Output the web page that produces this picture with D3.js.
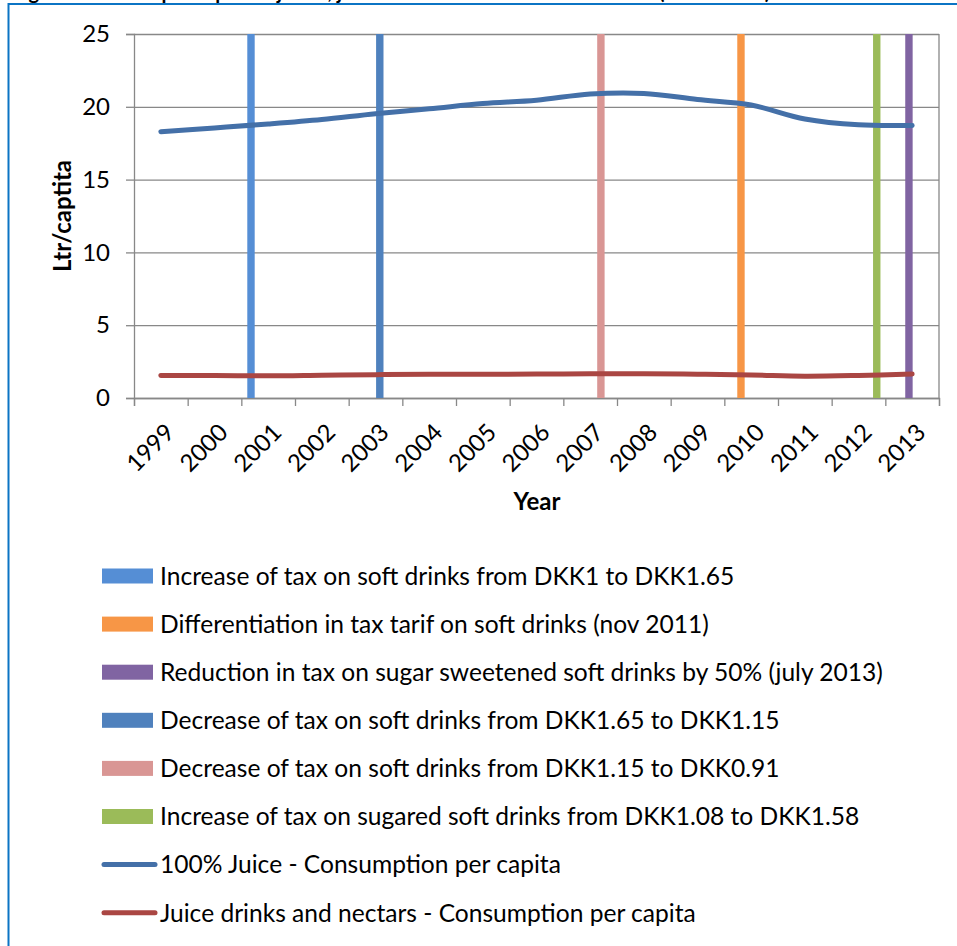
<!DOCTYPE html>
<html>
<head>
<meta charset="utf-8">
<script src="https://cdn.jsdelivr.net/npm/d3@7"></script>
<style>
  html, body { margin: 0; padding: 0; background: #fff; overflow: hidden; }
  svg { display: block; }
  text { font-family: Lato, "Open Sans", sans-serif; fill: #000; }
</style>
</head>
<body>
<svg id="chart" width="957" height="946"></svg>
<script>
// Years on the category axis
const years = [1999, 2000, 2001, 2002, 2003, 2004, 2005, 2006, 2007, 2008, 2009, 2010, 2011, 2012, 2013];

// Consumption per capita (litres)
const juice100 = [18.29, 18.55, 18.82, 19.13, 19.53, 19.86, 20.22, 20.45, 20.88, 20.92, 20.50, 20.12, 19.16, 18.76, 18.72];
const juiceDrinks = [1.55, 1.55, 1.52, 1.56, 1.60, 1.63, 1.63, 1.64, 1.66, 1.67, 1.63, 1.58, 1.50, 1.55, 1.65];

// Tax events (position on the year axis)
const eventNames = [
  "Increase of tax on soft drinks from DKK1 to DKK1.65",
  "Differentiation in tax tarif on soft drinks (nov 2011)",
  "Reduction in tax on sugar sweetened soft drinks by 50% (july 2013)",
  "Decrease of tax on soft drinks from DKK1.65 to DKK1.15",
  "Decrease of tax on soft drinks from DKK1.15 to DKK0.91",
  "Increase of tax on sugared soft drinks from DKK1.08 to DKK1.58"
];
const eventPositions = [2000.68, 2009.81, 2012.94, 2003.08, 2007.2, 2012.34];
const eventColors = ["#558ED5", "#F79646", "#8064A2", "#4F81BD", "#D99694", "#9BBB59"];

const seriesNames = ["100% Juice - Consumption per capita", "Juice drinks and nectars - Consumption per capita"];
const seriesColors = ["#4470A8", "#AA4643"];

const yTicks = [0, 5, 10, 15, 20, 25];
const yLabel = "Ltr/captita";
const xLabel = "Year";
const title = "Figure 3: Annual per capita of juices, juice drinks and nectars in Denmark (1999-2013)";

const svg = d3.select("#chart");

// Frame of the figure box, with its caption running above it
svg.append("text")
  .attr("x", 12).attr("y", -1)
  .style("font-weight", "bold").style("font-size", "20px")
  .text(title);
svg.append("path")
  .attr("d", "M8.5,960 V4 H960")
  .attr("fill", "none").attr("stroke", "#0B74C4").attr("stroke-width", 2);

const plot = { left: 134, right: 939, top: 34, bottom: 398 };

const x = d3.scaleLinear().domain([years[0] - 0.5, years[years.length - 1] + 0.5]).range([plot.left, plot.right]);
const y = d3.scaleLinear().domain([0, 25]).range([plot.bottom, plot.top]);

const gridColor = "#888";

// Horizontal gridlines
svg.append("g")
  .attr("transform", `translate(${plot.left},0)`)
  .call(d3.axisLeft(y).tickValues(yTicks).tickSize(-(plot.right - plot.left)).tickFormat(""))
  .call(g => g.select(".domain").remove())
  .call(g => g.selectAll("line").attr("stroke", gridColor).attr("stroke-width", 1.3));

// Y axis with outside ticks
const yAxis = svg.append("g")
  .attr("transform", `translate(${plot.left},0)`)
  .call(d3.axisLeft(y).tickValues(yTicks).tickSize(8).tickPadding(16))
  .call(g => g.select(".domain").attr("stroke", gridColor).attr("stroke-width", 1.3))
  .call(g => g.selectAll("line").attr("stroke", gridColor).attr("stroke-width", 1.3));
yAxis.selectAll("text").style("font-size", "24px").style("font-family", "Lato, sans-serif").attr("fill", "#000");

// Right border of plot area
svg.append("line")
  .attr("x1", plot.right).attr("x2", plot.right)
  .attr("y1", plot.top).attr("y2", plot.bottom)
  .attr("stroke", gridColor).attr("stroke-width", 1.3);

// X axis: ticks at category boundaries
const boundaries = d3.range(years.length + 1).map(i => years[0] - 0.5 + i);
svg.append("g")
  .attr("transform", `translate(0,${plot.bottom})`)
  .call(d3.axisBottom(x).tickValues(boundaries).tickSize(8).tickFormat(""))
  .call(g => g.select(".domain").attr("stroke", gridColor).attr("stroke-width", 1.3))
  .call(g => g.selectAll("line").attr("stroke", gridColor).attr("stroke-width", 1.3));

// Year labels, rotated
svg.append("g").selectAll("text")
  .data(years)
  .join("text")
  .attr("transform", d => `translate(${x(d) + 9},${plot.bottom + 30}) rotate(-45)`)
  .attr("text-anchor", "end")
  .attr("dy", "0.35em")
  .style("font-size", "24px")
  .text(d => d);

// Axis titles
svg.append("text")
  .attr("transform", `translate(71,${(plot.top + plot.bottom) / 2}) rotate(-90)`)
  .attr("text-anchor", "middle")
  .style("font-weight", "bold").style("font-size", "24px")
  .text(yLabel);
svg.append("text")
  .attr("x", 537).attr("y", 510)
  .attr("text-anchor", "middle")
  .style("font-weight", "bold").style("font-size", "24px")
  .text(xLabel);

// Tax event bars
svg.append("g").selectAll("rect")
  .data(eventPositions)
  .join("rect")
  .attr("x", d => x(d) - 3.7)
  .attr("width", 7.4)
  .attr("y", y(25))
  .attr("height", y(0) - y(25))
  .attr("fill", (d, i) => eventColors[i]);

// Consumption lines
const line = d3.line()
  .x((d, i) => x(years[i]))
  .y(d => y(d))
  .curve(d3.curveCatmullRom.alpha(0.5));

[juice100, juiceDrinks].forEach((s, i) => {
  svg.append("path")
    .datum(s)
    .attr("d", line)
    .attr("fill", "none")
    .attr("stroke", seriesColors[i])
    .attr("stroke-width", 5)
    .attr("stroke-linecap", "round")
    .attr("stroke-linejoin", "round");
});

// Legend
const legendTop = 576, legendStep = 48.1;
const legend = svg.append("g");
const legendItems = eventNames.map((n, i) => ({ name: n, color: eventColors[i], type: "rect" }))
  .concat(seriesNames.map((n, i) => ({ name: n, color: seriesColors[i], type: "line" })));

const rows = legend.selectAll("g")
  .data(legendItems)
  .join("g")
  .attr("transform", (d, i) => `translate(0,${legendTop + i * legendStep})`);

rows.filter(d => d.type === "rect").append("rect")
  .attr("x", 102).attr("y", -7.5).attr("width", 51).attr("height", 15)
  .attr("fill", d => d.color);
rows.filter(d => d.type === "line").append("line")
  .attr("x1", 104).attr("x2", 155).attr("y1", 0).attr("y2", 0)
  .attr("stroke", d => d.color).attr("stroke-width", 5).attr("stroke-linecap", "round");

const legendTexts = rows.append("text")
  .attr("x", 160).attr("dy", "0.36em")
  .style("font-size", "22px")
  .text(d => d.name);

// Size the legend font so the longest entry spans its available width
const longest = legendTexts.filter((d, i) => i === 2).node();
const w = longest.getComputedTextLength();
const fs = 22 * 723 / w;
legendTexts.style("font-size", fs.toFixed(2) + "px");
</script>
</body>
</html>
